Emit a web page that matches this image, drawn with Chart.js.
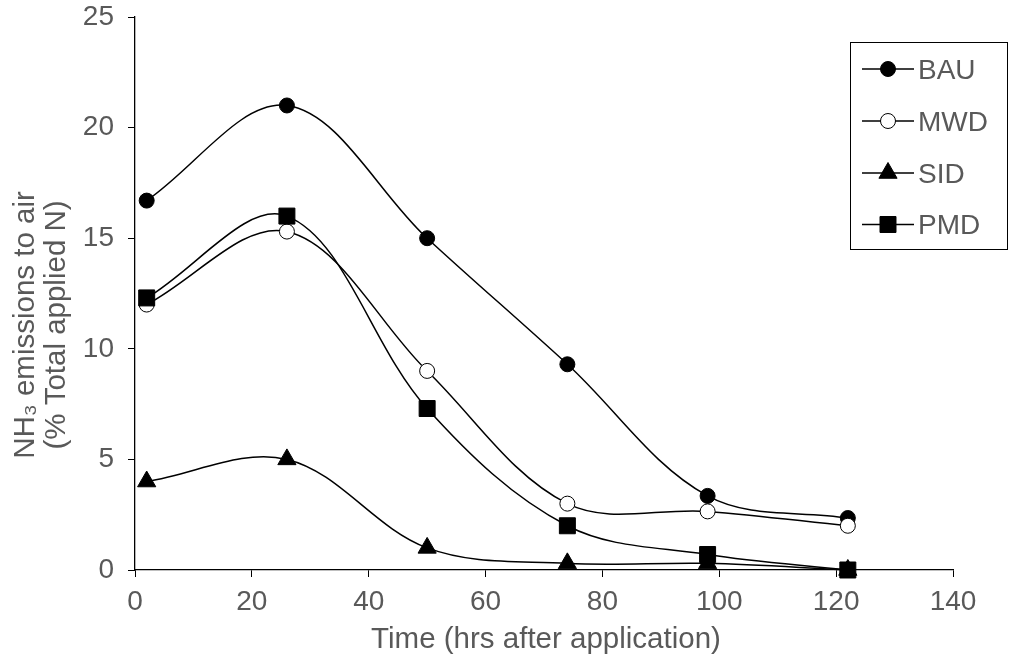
<!DOCTYPE html>
<html>
<head>
<meta charset="utf-8">
<script src="https://cdn.jsdelivr.net/npm/chart.js@4/dist/chart.umd.min.js"></script>
<style>
html,body{margin:0;padding:0;background:#fff;}
#wrap{width:1011px;height:664px;}
</style>
</head>
<body>
<div id="wrap"><canvas id="c" width="1011" height="664"></canvas></div>
<script>
const hours = [2, 26, 50, 74, 98, 122];
const seriesNames = ["BAU", "MWD", "SID", "PMD"];
const bau = [16.7, 21.0, 15.0, 9.3, 3.35, 2.35];
const mwd = [12.0, 15.3, 9.0, 3.0, 2.65, 2.0];
const sid = [4.0, 5.0, 1.0, 0.3, 0.3, 0.0];
const pmd = [12.3, 16.0, 7.3, 2.0, 0.7, 0.0];
const xTicks = [0, 20, 40, 60, 80, 100, 120, 140];
const yTicks = [0, 5, 10, 15, 20, 25];
const xTitle = "Time (hrs after application)";
const yTitle = ["NH\u2083 emissions to air", "(% Total applied N)"];

const FONT = "'Liberation Sans', Arial, sans-serif";
const GREY = "#595959";
const FS = 28;
const TFS = 29.5;

const styles = [
  {pointStyle: "circle", radius: 7.5, fill: "#000"},
  {pointStyle: "circle", radius: 7.5, fill: "#fff"},
  {pointStyle: "triangle", radius: 10.5, fill: "#000"},
  {pointStyle: "rect", radius: 11.3, fill: "#000"}
];
const values = [bau, mwd, sid, pmd];

const datasets = values.map((vals, i) => ({
  label: seriesNames[i],
  data: hours.map((h, j) => ({x: h, y: vals[j]})),
  borderColor: "#000",
  borderWidth: 1.5,
  backgroundColor: styles[i].fill,
  pointStyle: styles[i].pointStyle,
  pointRadius: styles[i].radius,
  pointBackgroundColor: styles[i].fill,
  pointBorderColor: "#000",
  pointBorderWidth: 1,
  tension: 0.35,
  clip: false,
  order: values.length - i
}));

function drawMarker(ctx, style, x, y) {
  ctx.save();
  ctx.fillStyle = style.fill;
  ctx.strokeStyle = "#000";
  ctx.lineWidth = 1;
  ctx.beginPath();
  const r = style.radius;
  if (style.pointStyle === "circle") {
    ctx.arc(x, y, r, 0, Math.PI * 2);
  } else if (style.pointStyle === "triangle") {
    for (let k = 0; k < 3; k++) {
      const a = k * 2 * Math.PI / 3;
      const px = x + Math.sin(a) * r, py = y - Math.cos(a) * r;
      if (k === 0) ctx.moveTo(px, py); else ctx.lineTo(px, py);
    }
    ctx.closePath();
  } else {
    const s = Math.SQRT1_2 * r;
    ctx.rect(x - s, y - s, 2 * s, 2 * s);
  }
  ctx.fill();
  ctx.stroke();
  ctx.restore();
}

const decor = {
  id: "decor",
  afterDraw(chart) {
    const ctx = chart.ctx;
    ctx.save();
    // axis titles
    ctx.fillStyle = GREY;
    ctx.font = TFS + "px " + FONT;
    ctx.textAlign = "center";
    ctx.textBaseline = "alphabetic";
    ctx.fillText(xTitle, 546, 648);
    ctx.save();
    ctx.translate(34, 325);
    ctx.rotate(-Math.PI / 2);
    ctx.fillText(yTitle[0], 0, 0);
    ctx.fillText(yTitle[1], 0, 31);
    ctx.restore();
    // legend box
    ctx.strokeStyle = "#000";
    ctx.lineWidth = 1;
    ctx.strokeRect(850.5, 42.5, 157, 207);
    const ys = [69, 121, 173, 224.5];
    chart.data.datasets.forEach((ds, i) => {
      const y = ys[i];
      ctx.strokeStyle = "#000";
      ctx.lineWidth = 1.5;
      ctx.beginPath();
      ctx.moveTo(862, y);
      ctx.lineTo(914, y);
      ctx.stroke();
      drawMarker(ctx, styles[i], 888, y);
      ctx.fillStyle = GREY;
      ctx.textAlign = "left";
      ctx.textBaseline = "alphabetic";
      ctx.font = FS + "px " + FONT;
      ctx.fillText(ds.label, 918, y + 9.5);
    });
    ctx.restore();
  }
};

new Chart(document.getElementById("c"), {
  type: "line",
  data: {datasets},
  options: {
    responsive: false,
    animation: false,
    devicePixelRatio: 1,
    layout: {padding: {left: 0, right: 58, top: 17, bottom: 0}},
    plugins: {legend: {display: false}, tooltip: {enabled: false}},
    scales: {
      x: {
        type: "linear",
        min: 0, max: 140,
        afterBuildTicks(s) { s.ticks = xTicks.map(v => ({value: v})); },
        afterFit(s) { s.height = 94; s.paddingLeft = 0; s.paddingRight = 0; },
        grid: {drawOnChartArea: false, drawTicks: true, tickLength: 7, color: "#000", lineWidth: 1},
        border: {display: true, color: "#000", width: 1.3},
        ticks: {color: GREY, font: {family: FONT, size: FS}, padding: 8, maxRotation: 0, autoSkip: false}
      },
      y: {
        type: "linear",
        min: 0, max: 25,
        afterBuildTicks(s) { s.ticks = yTicks.map(v => ({value: v})); },
        afterFit(s) { s.width = 135; s.paddingTop = 0; s.paddingBottom = 0; },
        grid: {drawOnChartArea: false, drawTicks: true, tickLength: 7, color: "#000", lineWidth: 1},
        border: {display: true, color: "#000", width: 1.3},
        ticks: {color: GREY, font: {family: FONT, size: FS}, padding: 14, autoSkip: false}
      }
    }
  },
  plugins: [decor]
});
</script>
</body>
</html>
